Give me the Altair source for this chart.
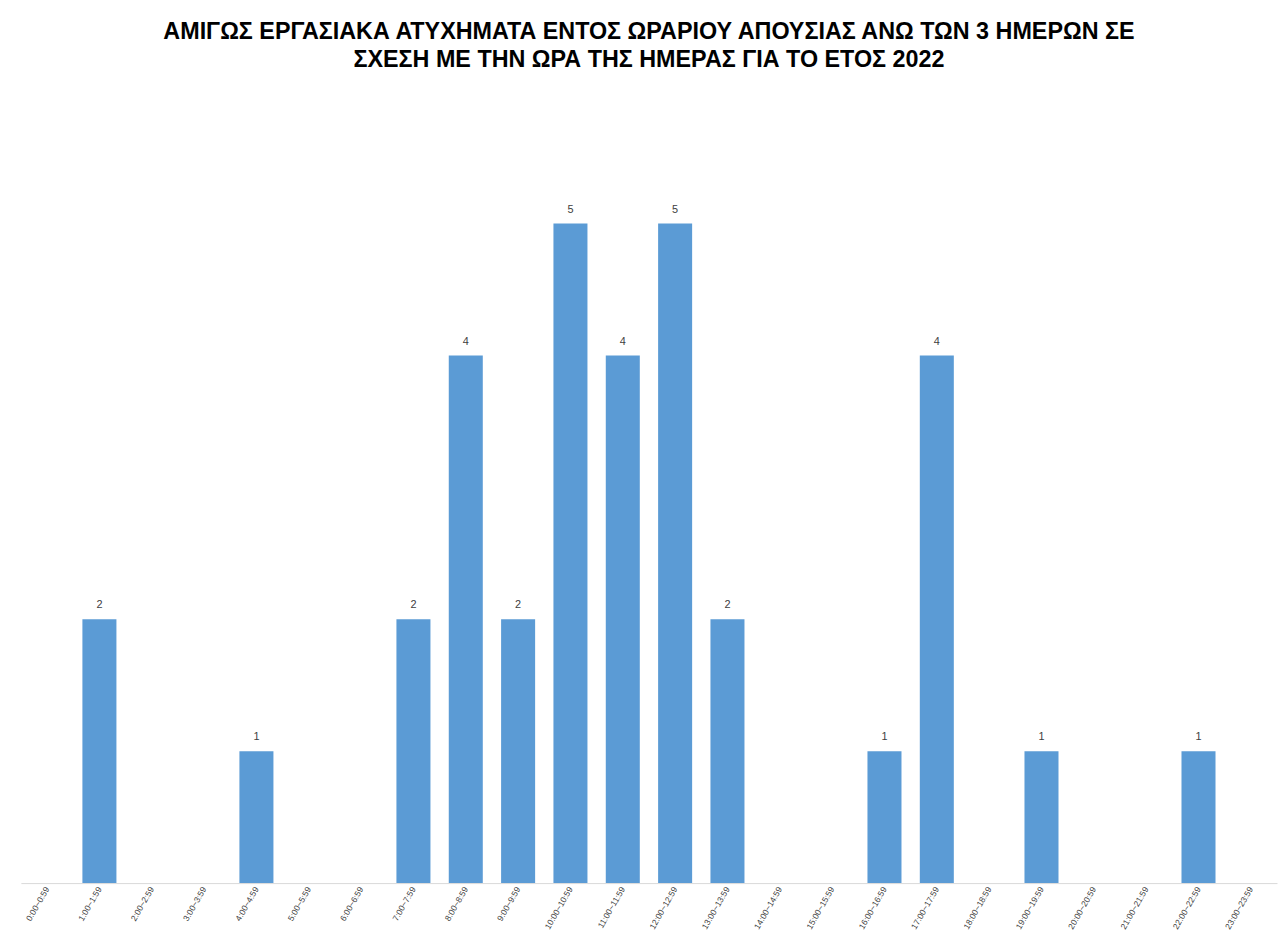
import altair as alt
import pandas as pd

hours = ["0:00~0:59", "1:00~1:59", "2:00~2:59", "3:00~3:59", "4:00~4:59", "5:00~5:59",
         "6:00~6:59", "7:00~7:59", "8:00~8:59", "9:00~9:59", "10:00~10:59", "11:00~11:59",
         "12:00~12:59", "13:00~13:59", "14:00~14:59", "15:00~15:59", "16:00~16:59",
         "17:00~17:59", "18:00~18:59", "19:00~19:59", "20:00~20:59", "21:00~21:59",
         "22:00~22:59", "23:00~23:59"]
counts = [0, 2, 0, 0, 1, 0, 0, 2, 4, 2, 5, 4, 5, 2, 0, 0, 1, 4, 0, 1, 0, 0, 1, 0]
title_lines = ["ΑΜΙΓΩΣ ΕΡΓΑΣΙΑΚΑ ΑΤΥΧΗΜΑΤΑ ΕΝΤΟΣ ΩΡΑΡΙΟΥ  ΑΠΟΥΣΙΑΣ ΑΝΩ ΤΩΝ 3 ΗΜΕΡΩΝ ΣΕ",
               "ΣΧΕΣΗ ΜΕ ΤΗΝ ΩΡΑ ΤΗΣ ΗΜΕΡΑΣ ΓΙΑ ΤΟ ΕΤΟΣ 2022"]

df = pd.DataFrame({"hour": hours, "count": counts})

x = alt.X("hour:N", sort=hours, title=None,
          scale=alt.Scale(paddingInner=0.35, paddingOuter=0.175),
          axis=alt.Axis(labelAngle=-60, labelFontSize=8.5, labelColor="#404040",
                        labelFont="Liberation Sans", ticks=False, domainColor="#d9d9d9",
                        labelPadding=4, labelAlign="right", labelBaseline="middle",
                        labelLimit=0))
y = alt.Y("count:Q", scale=alt.Scale(domain=[0, 6]), axis=None)

bars = alt.Chart(df).mark_bar(color="#5B9BD5").encode(x=x, y=y)
labels = alt.Chart(df).transform_filter("datum.count > 0").mark_text(
    dy=-14, fontSize=11, color="#404040", font="Liberation Sans"
).encode(x=x, y=y, text="count:Q")

chart = (bars + labels).properties(
    width=1265, height=797,
    autosize=alt.AutoSizeParams(type="none"),
    padding={"left": 13, "top": 81, "right": 1, "bottom": 52},
    background="white",
    title=alt.TitleParams(title_lines, font="Liberation Sans", fontSize=23.5,
                          fontWeight="bold", color="#000000", anchor="middle",
                          offset=20, lineHeight=29),
).configure_view(strokeWidth=0)

chart.save("out.html", embed_options={"renderer": "svg", "actions": False})
